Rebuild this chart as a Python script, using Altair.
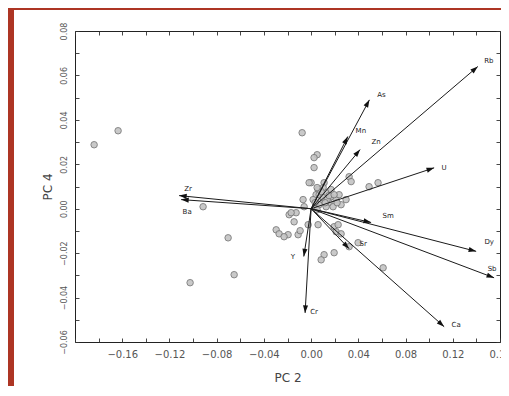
import math
import altair as alt
import pandas as pd

# ---- observation scores (PC 2, PC 4) ----
obs_pc2 = [-0.1635, -0.1838, -0.0915, -0.0703, -0.0652, -0.1025, -0.0076, 0.0051, 0.0025, 0.0000,
           0.0059, -0.0068, -0.0059, -0.0127, -0.0186, 0.0059, -0.0025, -0.0296, -0.0271, -0.0195,
           -0.0110, -0.0093, 0.0195, 0.0212, 0.0110, 0.0085, 0.0195, 0.0322, 0.0398, 0.0491,
           0.0567, 0.0322, 0.0339, 0.0025, -0.0017, 0.0110, 0.0169, 0.0229, 0.0254, 0.0610,
           -0.0169, -0.0229, -0.0144, 0.0042, 0.0085, 0.0127, 0.0068, 0.0152, 0.0102, 0.0169,
           0.0212, 0.0017, 0.0127, 0.0237, 0.0186, 0.0254, 0.0051, 0.0296,
           0.0068, 0.0102, 0.0136, 0.0034, 0.0085, 0.0152, 0.0195, 0.0119, 0.0051, 0.0220]
obs_pc4 = [0.0351, 0.0288, 0.0009, -0.0131, -0.0297, -0.0333, 0.0342, 0.0243, 0.0185, 0.0117,
           0.0086, 0.0041, 0.0009, -0.0018, -0.0027, -0.0072, -0.0072, -0.0095, -0.0113, -0.0117,
           -0.0117, -0.0099, -0.0081, -0.0104, -0.0207, -0.0230, -0.0198, -0.0171, -0.0153, 0.0099,
           0.0117, 0.0144, 0.0122, 0.0230, 0.0117, 0.0117, 0.0054, -0.0072, -0.0113, -0.0266,
           -0.0018, -0.0126, -0.0059, 0.0063, 0.0041, 0.0072, 0.0018, 0.0027, 0.0095, 0.0086,
           0.0041, 0.0041, 0.0009, 0.0063, 0.0009, 0.0018, -0.0005, 0.0041,
           0.0063, 0.0050, 0.0041, 0.0027, 0.0077, 0.0059, 0.0063, 0.0027, 0.0095, 0.0027]

# ---- variable loadings ----
var_names = ["Rb", "As", "Mn", "Zn", "U", "Sm", "Dy", "Sb", "Sr", "Ca", "Cr", "Y", "Zr", "Ba"]
load_pc2 = [0.1412, 0.0494, 0.0311, 0.0415, 0.1042, 0.0508, 0.1398, 0.1550, 0.0322, 0.1127,
            -0.0051, -0.0062, -0.1118, -0.1101]
load_pc4 = [0.0640, 0.0490, 0.0325, 0.0266, 0.0184, -0.0062, -0.0192, -0.0311, -0.0180, -0.0531,
            -0.0469, -0.0215, 0.0059, 0.0041]

# label offsets from arrow tips, in pixels (right, down)
label_dx = [11, 12, 13, 16, 10, 17, 13, -2, 14, 12, 9, -11, 9, 6]
label_dy = [-6, -5, -6, -8, 0, -6, -9, -9, -5, -2, -1, 1, -7, 12]

# ---- geometry ----
W, H = 425, 311
XMIN, XMAX = -0.20, 0.16
YMIN, YMAX = -0.06, 0.08
xpx = W / (XMAX - XMIN)
ypx = H / (YMAX - YMIN)

FONT = "DejaVu Sans"
RED = "#ad3524"

pts = pd.DataFrame({"pc2": obs_pc2, "pc4": obs_pc4})

arr = pd.DataFrame({"name": var_names, "x": load_pc2, "y": load_pc4})
arr["x0"] = 0.0
arr["y0"] = 0.0
arr["angle"] = [(math.degrees(math.atan2(x * xpx, y * ypx)) + 360) % 360
                for x, y in zip(load_pc2, load_pc4)]
arr["lx"] = [x + dx / xpx for x, dx in zip(load_pc2, label_dx)]
arr["ly"] = [y - dy / ypx for y, dy in zip(load_pc4, label_dy)]

xticks = [round(XMIN + 0.02 * i, 2) for i in range(19)]
yticks = [round(YMIN + 0.01 * i, 2) for i in range(15)]

xscale = alt.Scale(domain=[XMIN, XMAX], nice=False, zero=False)
yscale = alt.Scale(domain=[YMIN, YMAX], nice=False, zero=False)

x_axis = alt.Axis(
    values=xticks, orient="bottom",
    labelExpr="abs(round(datum.value*100)) % 4 == 0 && datum.value > -0.19 ? format(datum.value, '.2f') : ''",
    tickSize=4, offset=-4, domain=False, grid=False, tickColor="#333", tickWidth=0.9,
    labelPadding=7, labelFont=FONT, labelFontSize=10, labelColor="#555",
    labelOverlap=False, labelFlush=False,
    title="PC 2", titleFont=FONT, titleFontSize=12, titleFontWeight="normal",
    titleColor="#444", titlePadding=13, zindex=1,
)
y_axis = alt.Axis(
    values=yticks, orient="left",
    labelExpr="round(datum.value*100) % 2 == 0 ? format(datum.value, '.2f') : ''",
    tickSize=4, offset=-4, domain=False, grid=False, tickColor="#333", tickWidth=0.9,
    labelPadding=7, labelFont=FONT, labelFontSize=8, labelColor="#555",
    labelAngle=270, labelAlign="center", labelBaseline="bottom",
    labelOverlap=False, labelFlush=False,
    title="PC 4", titleFont=FONT, titleFontSize=12, titleFontWeight="normal",
    titleColor="#444", titlePadding=6, zindex=1,
)
x_top = alt.Axis(values=xticks, orient="top", labels=False, tickSize=4, offset=-4,
                 domain=False, grid=False, tickColor="#333", tickWidth=0.9, title=None, zindex=1)
y_right = alt.Axis(values=yticks, orient="right", labels=False, tickSize=4, offset=-4,
                   domain=False, grid=False, tickColor="#333", tickWidth=0.9, title=None, zindex=1)

one = pd.DataFrame({"k": [0]})
stripe_left = alt.Chart(one).mark_rect(color=RED).encode(
    x=alt.value(-67), x2=alt.value(-61), y=alt.value(-23), y2=alt.value(360))
stripe_top = alt.Chart(one).mark_rect(color=RED).encode(
    x=alt.value(-67), x2=alt.value(430), y=alt.value(-23), y2=alt.value(-21))

points = alt.Chart(pts).mark_point(
    filled=True, shape="circle", size=42, fill="#c4c4c4", stroke="#7a7a7a",
    strokeWidth=1, opacity=0.9
).encode(
    x=alt.X("pc2:Q", scale=xscale, axis=x_axis),
    y=alt.Y("pc4:Q", scale=yscale, axis=y_axis),
)

ghost = alt.Chart(pts).mark_point(opacity=0).encode(
    x=alt.X("pc2:Q", scale=xscale, axis=x_top),
    y=alt.Y("pc4:Q", scale=yscale, axis=y_right),
)

rules = alt.Chart(arr).mark_rule(color="#1a1a1a", strokeWidth=1).encode(
    x=alt.X("x0:Q", scale=xscale, axis=None), y=alt.Y("y0:Q", scale=yscale, axis=None),
    x2="x:Q", y2="y:Q",
)

heads = alt.Chart(arr).mark_point(
    shape="M0,0L0.8,2.4L-0.8,2.4Z", filled=True, size=40, color="#111", opacity=1
).encode(
    x=alt.X("x:Q", scale=xscale, axis=None), y=alt.Y("y:Q", scale=yscale, axis=None),
    angle=alt.Angle("angle:Q", scale=None),
)

labels = alt.Chart(arr).mark_text(
    font=FONT, fontSize=7, color="#222", align="center", baseline="middle"
).encode(
    x=alt.X("lx:Q", scale=xscale, axis=None), y=alt.Y("ly:Q", scale=yscale, axis=None),
    text="name:N",
)

chart = alt.layer(
    stripe_left, stripe_top, points, rules, heads, labels, ghost
).resolve_axis(
    x="independent", y="independent"
).properties(
    width=W, height=H,
    padding={"left": 67, "top": 23, "right": 1, "bottom": 44},
    autosize=alt.AutoSizeParams(type="none"),
    background="white",
).configure_view(
    stroke="#222", strokeWidth=1
)

chart.save("out.html", embed_options={"renderer": "svg", "actions": False})
